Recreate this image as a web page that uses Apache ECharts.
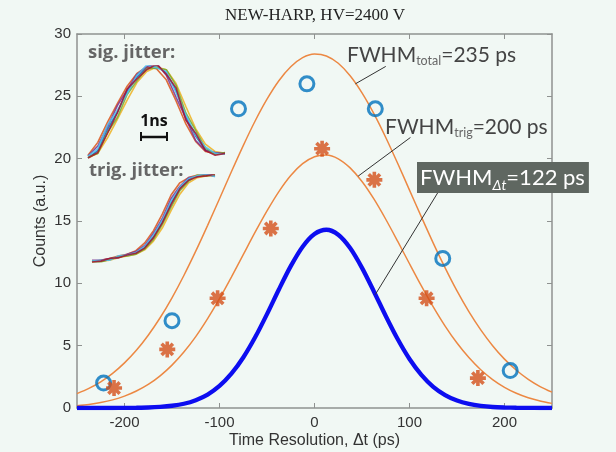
<!DOCTYPE html>
<html><head><meta charset="utf-8">
<script src="https://cdn.jsdelivr.net/npm/echarts@6/dist/echarts.min.js"></script>
<style>html,body{margin:0;padding:0;background:#f1f8f4;}#c{width:616px;height:452px;}</style>
</head><body><div id="c"></div>
<script>
// ---- data ----
const xTicks = [-200, -100, 0, 100, 200];

const totalX = [-222, -150, -80, -8, 64, 135, 206];
const totalY = [2.0, 7.0, 24.0, 26.0, 24.0, 12.0, 3.0];

const trigX = [-211, -155, -102, -46, 8, 63, 118, 172];
const trigY = [1.6, 4.7, 8.8, 14.4, 20.8, 18.3, 8.8, 2.4];

// fitted curves, every 12.5 ps
const fitX = [-250,-237.5,-225,-212.5,-200,-187.5,-175,-162.5,-150,-137.5,-125,-112.5,-100,-87.5,-75,-62.5,-50,-37.5,-25,-12.5,
  0,12.5,25,37.5,50,62.5,75,87.5,100,112.5,125,137.5,150,162.5,175,187.5,200,212.5,225,237.5,250];
const totalFit = [1.15,1.57,2.10,2.78,3.62,4.63,5.84,7.24,8.84,10.63,12.58,14.65,16.79,18.95,21.05,23.02,24.77,26.25,27.37,28.10,
  28.39,28.24,27.65,26.65,25.28,23.61,21.70,19.63,17.48,15.33,13.23,11.24,9.39,7.73,6.27,5.00,3.92,3.03,2.30,1.72,1.27];
const trigFit = [0.19,0.29,0.44,0.65,0.95,1.36,1.89,2.58,3.44,4.49,5.73,7.17,8.77,10.50,12.30,14.10,15.81,17.36,18.65,19.60,
  20.16,20.29,19.99,19.26,18.17,16.77,15.14,13.38,11.57,9.79,8.11,6.57,5.21,4.05,3.07,2.28,1.66,1.18,0.82,0.56,0.37];
const dtFit = [0,0,0,0,0.01,0.02,0.04,0.09,0.18,0.34,0.63,1.08,1.77,2.75,4.05,5.67,7.53,9.51,11.38,12.94,
  13.96,14.30,13.90,12.83,11.24,9.35,7.38,5.53,3.93,2.66,1.70,1.04,0.60,0.33,0.17,0.08,0.04,0.02,0.01,0,0];

// leader lines of the annotations (data coordinates)
const leaderTotal = [[75, 27.4], [43, 26.0]];
const leaderTrig = [[101, 21.7], [46, 18.6]];
const leaderDt = [[130, 17.3], [64, 9.1]];

// inset oscilloscope traces (normalised)
const insetX = [0,1,2,3,4,5,6,7,8,9,10,11,12,13,14];
const sigTraces = [
  [0.00,0.08,0.31,0.50,0.72,0.88,0.98,1.00,0.93,0.73,0.45,0.24,0.09,0.05,0.05],
  [0.03,0.17,0.39,0.59,0.78,0.92,0.99,0.97,0.85,0.62,0.37,0.18,0.07,0.05,0.05],
  [0.00,0.05,0.22,0.42,0.63,0.82,0.94,0.99,0.96,0.81,0.56,0.32,0.15,0.07,0.05],
  [0.02,0.13,0.34,0.57,0.74,0.91,0.99,1.03,0.90,0.66,0.43,0.19,0.08,0.06,0.05],
  [0.01,0.05,0.28,0.44,0.69,0.84,0.97,0.98,0.96,0.79,0.49,0.30,0.11,0.04,0.06],
  [0.02,0.10,0.36,0.52,0.70,0.90,1.01,0.98,0.94,0.71,0.47,0.25,0.12,0.05,0.04],
  [0.00,0.06,0.27,0.49,0.75,0.86,0.96,1.02,0.91,0.76,0.41,0.27,0.08,0.03,0.05]
];
const trigTraces = [
  [0.00,0.01,0.03,0.06,0.08,0.10,0.17,0.29,0.46,0.68,0.85,0.95,0.99,1.00,0.99],
  [0.00,0.02,0.04,0.07,0.09,0.13,0.22,0.36,0.55,0.77,0.91,0.97,1.00,1.00,0.99],
  [0.00,0.01,0.02,0.05,0.07,0.09,0.14,0.24,0.39,0.59,0.78,0.91,0.97,0.99,1.00],
  [0.02,0.02,0.04,0.05,0.09,0.12,0.19,0.33,0.50,0.73,0.87,0.97,0.98,1.01,0.99],
  [0.01,0.00,0.03,0.06,0.07,0.09,0.15,0.26,0.43,0.63,0.82,0.93,1.00,0.99,1.00],
  [0.01,0.02,0.02,0.07,0.08,0.11,0.18,0.31,0.48,0.70,0.86,0.96,0.99,1.02,0.98],
  [0.00,0.01,0.04,0.05,0.08,0.10,0.16,0.28,0.45,0.66,0.84,0.94,0.98,0.99,1.01]
];
const traceColors = ['#0072BD','#D95319','#EDB120','#7E2F8E','#77AC30','#4DBEEE','#A2142F'];

// ---- chart ----
const pairs = (xs, ys) => xs.map((x, i) => [x, ys[i]]);
const axisGray = '#8f9290';
const sansAxis = 'Liberation Sans';
const annoFont = 'Lato';

const frameX = (pos, showLabel) => ({
  gridIndex: 0, type: 'value', min: -250, max: 250, position: pos,
  axisLine: { show: true, onZero: false, lineStyle: { color: axisGray, width: 1.5 } },
  axisTick: { show: true, inside: true, length: 5, customValues: xTicks, lineStyle: { color: axisGray, width: 1 } },
  axisLabel: { show: showLabel, customValues: xTicks, color: '#333', fontSize: 15, fontFamily: sansAxis, margin: 7 },
  splitLine: { show: false }
});
const frameY = (pos, showLabel) => ({
  gridIndex: 0, type: 'value', min: 0, max: 30, interval: 5, position: pos,
  axisLine: { show: true, onZero: false, lineStyle: { color: axisGray, width: 1.5 } },
  axisTick: { show: true, inside: true, length: 5, lineStyle: { color: axisGray, width: 1 } },
  axisLabel: { show: showLabel, color: '#333', fontSize: 15, fontFamily: sansAxis, margin: 6 },
  splitLine: { show: false }
});

const xMain = frameX('bottom', true);
xMain.name = 'Time Resolution, \u0394t (ps)';
xMain.nameLocation = 'middle';
xMain.nameGap = 25;
xMain.nameMoveOverlap = false;
xMain.nameTextStyle = { color: '#333', fontSize: 16, fontFamily: sansAxis };
const yMain = frameY('left', true);
yMain.name = 'Counts (a.u.)';
yMain.nameLocation = 'middle';
yMain.nameGap = 28;
yMain.nameMoveOverlap = false;
yMain.nameTextStyle = { color: '#333', fontSize: 16, fontFamily: sansAxis };

const insetAxisX = (g) => ({ gridIndex: g, type: 'category', data: insetX, boundaryGap: false, show: false });
const insetAxisY = (g) => ({ gridIndex: g, type: 'value', min: 0, max: 1, show: false });

const series = [
  { type: 'line', data: pairs(fitX, totalFit), smooth: 0.3, showSymbol: false, silent: true,
    lineStyle: { color: '#EC8843', width: 1.5 }, z: 2 },
  { type: 'line', data: pairs(fitX, trigFit), smooth: 0.3, showSymbol: false, silent: true,
    lineStyle: { color: '#EC8843', width: 1.5 }, z: 2 },
  { type: 'line', data: pairs(fitX, dtFit), smooth: 0.3, showSymbol: false, silent: true,
    lineStyle: { color: '#0D0DF0', width: 4.3 }, z: 3 },
  { type: 'line', data: leaderTotal, showSymbol: false, silent: true, lineStyle: { color: '#333', width: 1 }, z: 4 },
  { type: 'line', data: leaderTrig, showSymbol: false, silent: true, lineStyle: { color: '#333', width: 1 }, z: 4 },
  { type: 'line', data: leaderDt, showSymbol: false, silent: true, lineStyle: { color: '#333', width: 1 }, z: 4 },
  { type: 'scatter', data: pairs(totalX, totalY), symbol: 'circle', symbolSize: 14, silent: true,
    itemStyle: { color: 'rgba(0,0,0,0)', borderColor: '#0072BD', borderWidth: 3 }, z: 5 },
  { type: 'scatter', data: pairs(trigX, trigY), silent: true,
    symbol: 'path://M0,-10L0,10M-10,0L10,0M-7.07,-7.07L7.07,7.07M-7.07,7.07L7.07,-7.07',
    symbolSize: 16, itemStyle: { color: 'rgba(0,0,0,0)', borderColor: '#D4501A', borderWidth: 3.6 }, z: 5 }
];
sigTraces.forEach((t, i) => series.push({
  type: 'line', xAxisIndex: 2, yAxisIndex: 2, data: t, showSymbol: false, silent: true,
  lineStyle: { color: traceColors[i], width: 1.6, opacity: 0.85 }
}));
trigTraces.forEach((t, i) => series.push({
  type: 'line', xAxisIndex: 3, yAxisIndex: 3, data: t, showSymbol: false, silent: true,
  lineStyle: { color: traceColors[i], width: 1.6, opacity: 0.85 }
}));

const option = {
  backgroundColor: '#f1f8f4',
  animation: false,
  grid: [
    { left: 77, right: 64, top: 34, bottom: 44, outerBoundsMode: 'none', containLabel: false },
    { left: 88, top: 66, width: 137, height: 92, outerBoundsMode: 'none' },
    { left: 92, top: 175, width: 123, height: 87, outerBoundsMode: 'none' }
  ],
  xAxis: [xMain, frameX('top', false), insetAxisX(1), insetAxisX(2)],
  yAxis: [yMain, frameY('right', false), insetAxisY(1), insetAxisY(2)],
  series: series,
  graphic: [
    { type: 'text', x: 315, y: 16, z: 10, style: { text: 'NEW-HARP, HV=2400 V', align: 'center', verticalAlign: 'middle',
      textAlign: 'center', textVerticalAlign: 'middle', fill: '#222', fontSize: 17, fontFamily: 'Liberation Serif' } },
    { type: 'text', x: 88, y: 53, z: 10, style: { text: 'sig. jitter:', verticalAlign: 'middle', textVerticalAlign: 'middle',
      fill: '#666', fontSize: 18.5, fontWeight: 'bold', fontFamily: 'Open Sans' } },
    { type: 'text', x: 89, y: 171, z: 10, style: { text: 'trig. jitter:', verticalAlign: 'middle', textVerticalAlign: 'middle',
      fill: '#666', fontSize: 18.5, fontWeight: 'bold', fontFamily: 'Open Sans' } },
    { type: 'text', x: 154, y: 121, z: 10, style: { text: '1ns', align: 'center', verticalAlign: 'middle', textAlign: 'center',
      textVerticalAlign: 'middle', fill: '#111', fontSize: 16, fontWeight: 'bold', fontFamily: 'Open Sans' } },
    { type: 'line', z: 10, shape: { x1: 140, y1: 137, x2: 168, y2: 137 }, style: { stroke: '#111', lineWidth: 2.5 } },
    { type: 'line', z: 10, shape: { x1: 141, y1: 132, x2: 141, y2: 141 }, style: { stroke: '#111', lineWidth: 2 } },
    { type: 'line', z: 10, shape: { x1: 167, y1: 132, x2: 167, y2: 141 }, style: { stroke: '#111', lineWidth: 2 } },
    { type: 'text', x: 347, y: 43, z: 10, style: {
      text: '{a|FWHM}{s|total}{a|=235 ps}',
      rich: {
        a: { fontSize: 21, fontFamily: annoFont, fill: '#444', lineHeight: 24 },
        s: { fontSize: 12.5, fontFamily: annoFont, fill: '#666', lineHeight: 12, verticalAlign: 'bottom' }
      } } },
    { type: 'text', x: 385, y: 115, z: 10, style: {
      text: '{a|FWHM}{s|trig}{a|=200 ps}',
      rich: {
        a: { fontSize: 21, fontFamily: annoFont, fill: '#444', lineHeight: 24 },
        s: { fontSize: 12.5, fontFamily: annoFont, fill: '#666', lineHeight: 12, verticalAlign: 'bottom' }
      } } },
    { type: 'text', x: 417, y: 162, z: 10, style: {
      text: '{a|FWHM}{s|\u0394t}{a|=122 ps}',
      backgroundColor: '#5f6761', padding: [2, 4, 1, 3],
      rich: {
        a: { fontSize: 22, fontFamily: annoFont, fill: '#fff', lineHeight: 28 },
        s: { fontSize: 14, fontFamily: annoFont, fontStyle: 'italic', fill: '#fff', lineHeight: 12, verticalAlign: 'bottom' }
      } } }
  ]
};

const chart = echarts.init(document.getElementById('c'), null, { renderer: 'canvas' });
chart.setOption(option);
</script>
</body></html>
